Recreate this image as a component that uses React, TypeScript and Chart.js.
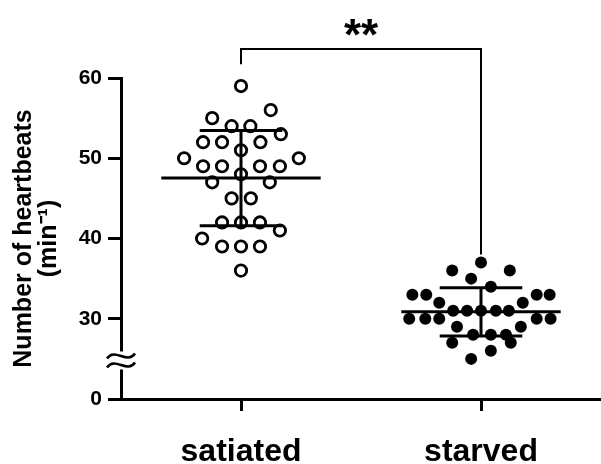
import React, { useEffect, useRef } from "react";
import { Chart, registerables } from "chart.js";

Chart.register(...registerables);

// ---- data ----
const groups = ["satiated", "starved"];
const yTickValues = [20, 30, 40, 50, 60];
const yTickLabels = ["0", "30", "40", "50", "60"];
const yTitle = ["Number of heartbeats", "(min\u207B\u00B9)"];
const significance = "**";

const satiatedValues = [59, 56, 55, 54, 54, 53, 52, 52, 52, 51, 50, 50, 49, 49, 49, 49, 48, 47, 47, 45, 45, 42, 42, 42, 41, 40, 39, 39, 39, 36];
const satiatedJitter = [0, 0.124, -0.12, -0.039, 0.039, 0.166, -0.158, -0.079, 0.081, 0, -0.237, 0.241, -0.158, -0.079, 0.079, 0.162, 0, -0.12, 0.12, -0.039, 0.041, -0.079, 0, 0.079, 0.162, -0.162, -0.079, 0, 0.079, 0];

const starvedValues = [37, 36, 36, 35, 34, 33, 33, 33, 33, 32, 32, 31, 31, 31, 31, 31, 30, 30, 30, 30, 30, 29, 29, 28, 28, 28, 27, 27, 26, 25];
const starvedJitter = [0, -0.12, 0.12, -0.041, 0.041, -0.286, -0.228, 0.232, 0.286, -0.174, 0.174, -0.116, -0.058, 0, 0.062, 0.116, -0.299, -0.232, -0.174, 0.232, 0.29, -0.1, 0.166, -0.033, 0.041, 0.104, -0.12, 0.124, 0.041, -0.041];

const FONT = "'Liberation Sans', Arial, Helvetica, sans-serif";

function mean(a: number[]) {
  return a.reduce((s, v) => s + v, 0) / a.length;
}
function sd(a: number[]) {
  const m = mean(a);
  return Math.sqrt(a.reduce((s, v) => s + (v - m) * (v - m), 0) / (a.length - 1));
}

const groupValues = [satiatedValues, starvedValues];

const errorBarPlugin = {
  id: "errorBars",
  afterDatasetsDraw(chart: any) {
    const { ctx, scales } = chart;
    const xs = scales.x;
    const ys = scales.y;
    ctx.save();
    ctx.strokeStyle = "#000";
    ctx.lineWidth = 3;
    ctx.lineCap = "butt";
    groupValues.forEach((vals, i) => {
      const g = i + 1;
      const m = mean(vals);
      const s = sd(vals);
      const ym = ys.getPixelForValue(m);
      const yt = ys.getPixelForValue(m + s);
      const yb = ys.getPixelForValue(m - s);
      ctx.beginPath();
      ctx.moveTo(xs.getPixelForValue(g - 0.332), ym);
      ctx.lineTo(xs.getPixelForValue(g + 0.332), ym);
      ctx.moveTo(xs.getPixelForValue(g - 0.172), yt);
      ctx.lineTo(xs.getPixelForValue(g + 0.172), yt);
      ctx.moveTo(xs.getPixelForValue(g - 0.172), yb);
      ctx.lineTo(xs.getPixelForValue(g + 0.172), yb);
      ctx.moveTo(xs.getPixelForValue(g), yt);
      ctx.lineTo(xs.getPixelForValue(g), yb);
      ctx.stroke();
    });
    ctx.restore();
  },
};

const annotationPlugin = {
  id: "annotations",
  afterDraw(chart: any) {
    const { ctx, scales } = chart;
    const xs = scales.x;
    const ys = scales.y;
    ctx.save();
    ctx.strokeStyle = "#000";
    ctx.fillStyle = "#000";
    ctx.lineWidth = 2;
    // significance bracket
    const x1 = xs.getPixelForValue(1);
    const x2 = xs.getPixelForValue(2);
    const yTop = ys.getPixelForValue(63.6);
    ctx.beginPath();
    ctx.moveTo(x1, ys.getPixelForValue(61.7));
    ctx.lineTo(x1, yTop);
    ctx.lineTo(x2, yTop);
    ctx.lineTo(x2, ys.getPixelForValue(38.0));
    ctx.stroke();
    ctx.font = `bold 44px ${FONT}`;
    ctx.textAlign = "center";
    ctx.textBaseline = "alphabetic";
    ctx.fillText(significance, (x1 + x2) / 2, yTop + 1);

    // axis break
    const yb = ys.getPixelForValue(24.8);
    const ax = chart.chartArea.left;
    ctx.fillStyle = "#fff";
    ctx.fillRect(ax - 5, yb - 9, 10, 18);
    ctx.lineWidth = 2.6;
    [-4.5, 4.5].forEach((d) => {
      const c = yb + d;
      ctx.beginPath();
      ctx.moveTo(ax - 14, c + 2.5);
      ctx.bezierCurveTo(ax - 6, c - 9, ax + 6, c + 9, ax + 14, c - 2.5);
      ctx.stroke();
    });
    ctx.restore();
  },
};

export default function App() {
  const ref = useRef<HTMLCanvasElement | null>(null);

  useEffect(() => {
    if (!ref.current) return;
    const chart = new Chart(ref.current, {
      type: "scatter",
      data: {
        datasets: [
          {
            label: groups[0],
            data: satiatedValues.map((v, i) => ({ x: 1 + satiatedJitter[i], y: v })),
            pointRadius: 5.7,
            pointBorderWidth: 2.8,
            borderColor: "#000",
            backgroundColor: "rgba(0,0,0,0)",
            pointBackgroundColor: "rgba(0,0,0,0)",
            pointBorderColor: "#000",
          },
          {
            label: groups[1],
            data: starvedValues.map((v, i) => ({ x: 2 + starvedJitter[i], y: v })),
            pointRadius: 6,
            pointBorderWidth: 0,
            borderColor: "#000",
            backgroundColor: "#000",
            pointBackgroundColor: "#000",
          },
        ],
      },
      options: {
        animation: false,
        responsive: false,
        devicePixelRatio: 1,
        layout: { autoPadding: false, padding: { top: 78, left: 0, right: 0, bottom: 0 } },
        plugins: {
          legend: { display: false },
          tooltip: { enabled: false },
        },
        scales: {
          x: {
            type: "linear",
            min: 0.5,
            max: 2.5,
            afterBuildTicks: (scale: any) => {
              scale.ticks = groups.map((_, i) => ({ value: i + 1 }));
            },
            afterFit: (scale: any) => {
              scale.height = 65;
              scale.paddingLeft = 0;
              scale.paddingRight = 0;
            },
            ticks: {
              callback: (v: any) => groups[Math.round(Number(v)) - 1],
              font: { family: FONT, size: 32, weight: "bold" },
              color: "#000",
              padding: 22,
              maxRotation: 0,
              autoSkip: false,
            },
            grid: {
              drawOnChartArea: false,
              drawTicks: true,
              tickLength: 12,
              tickWidth: 3,
              tickColor: "#000",
            },
            border: { display: true, width: 3, color: "#000" },
          },
          y: {
            type: "linear",
            min: 20,
            max: 60,
            afterBuildTicks: (scale: any) => {
              scale.ticks = yTickValues.map((v) => ({ value: v }));
            },
            afterFit: (scale: any) => {
              scale.width = 121;
              scale.paddingTop = 0;
              scale.paddingBottom = 0;
            },
            ticks: {
              callback: (v: any) => yTickLabels[yTickValues.indexOf(Number(v))],
              font: { family: FONT, size: 21, weight: "bold" },
              color: "#000",
              padding: 6,
              autoSkip: false,
            },
            grid: {
              drawOnChartArea: false,
              drawTicks: true,
              tickLength: 13,
              tickWidth: 3,
              tickColor: "#000",
            },
            border: { display: true, width: 3, color: "#000" },
            title: {
              display: true,
              text: yTitle,
              font: { family: FONT, size: 25, weight: "bold", lineHeight: 1.0 },
              color: "#000",
              padding: { top: 12, bottom: 0 },
            },
          },
        },
      },
      plugins: [errorBarPlugin, annotationPlugin],
    } as any);
    return () => chart.destroy();
  }, []);

  return (
    <div style={{ position: "absolute", left: 0, top: 0, width: 601, height: 464, background: "#fff" }}>
      <canvas ref={ref} width={601} height={464} style={{ display: "block" }} />
    </div>
  );
}
